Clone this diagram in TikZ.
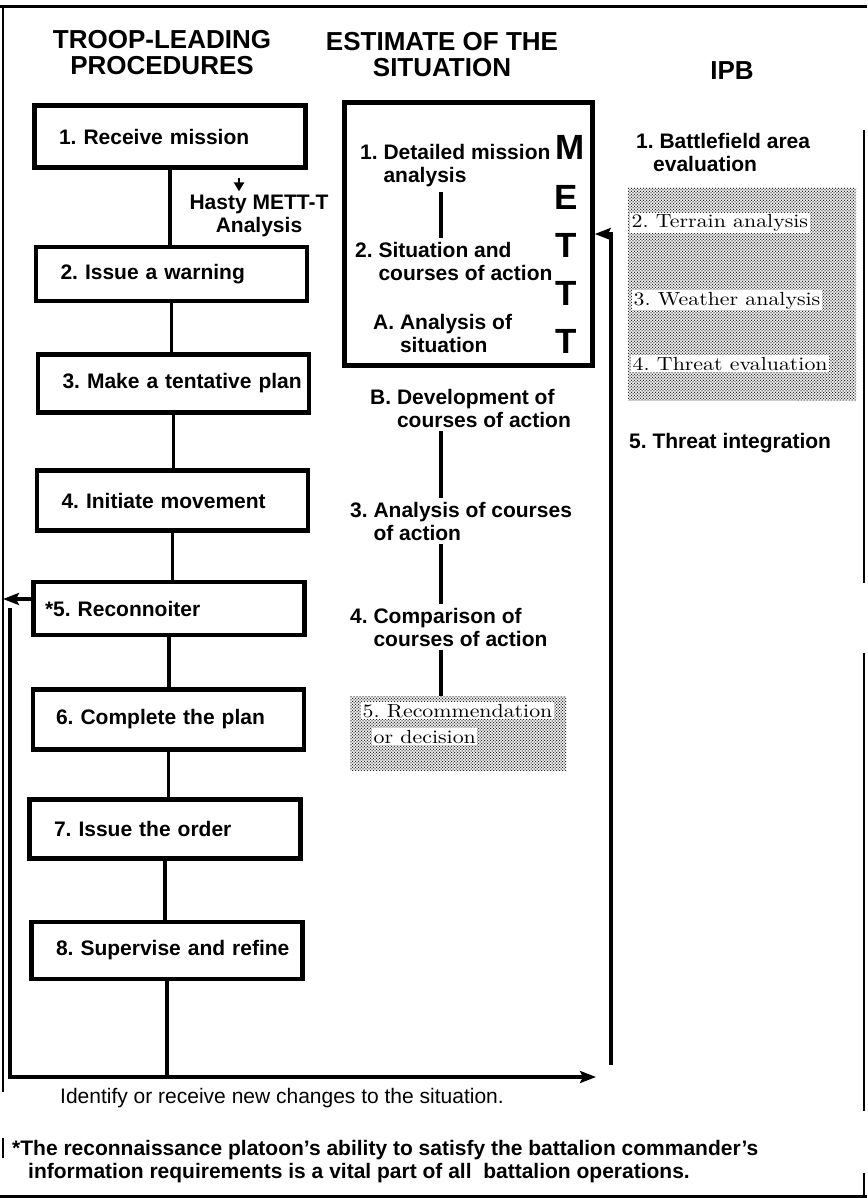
\documentclass[tikz,border=0pt]{standalone}
\usepackage{fontspec}
\newfontfamily\hv{Liberation Sans}
\newfontfamily\ser{lmroman10-regular.otf}[FakeStretch=1.15]
\usetikzlibrary{positioning,arrows.meta,patterns}
\frenchspacing

\newcommand\headfont{\hv\bfseries\fontsize{26}{26}\selectfont}
\newcommand\labfont{\hv\bfseries\fontsize{21}{23}\selectfont}
\newcommand\mettfont{\hv\bfseries\fontsize{35}{35}\selectfont}
\newcommand\notefont{\hv\fontsize{21}{23}\selectfont}
\newcommand\serfont{\ser\fontsize{19}{26}\selectfont}

\pgfdeclarepatternformonly{stipple}{\pgfqpoint{-1pt}{-1pt}}{\pgfqpoint{4pt}{4pt}}{\pgfqpoint{3pt}{3pt}}{%
  \pgfpathcircle{\pgfqpoint{0pt}{0pt}}{0.75pt}%
  \pgfpathcircle{\pgfqpoint{1.5pt}{1.5pt}}{0.75pt}%
  \pgfusepath{fill}}

\begin{document}
\begin{tikzpicture}[x=1pt,y=-1pt,
  head/.style={font=\headfont,align=center,anchor=base,inner sep=0pt},
  stage/.style={draw,line width=4.5pt,font=\labfont,text width=265pt,inner xsep=3pt,
    minimum height=#1,align=left},
  stage/.default=58pt,
  pad/.style={execute at begin node={\hspace*{#1}}},
  pad/.default=21.5pt,
  lab/.style={font=\labfont,align=left,anchor=base west,inner xsep=0pt,inner ysep=4pt},
  mett/.style={font=\mettfont,anchor=base,inner sep=0pt},
  note/.style={font=\notefont,anchor=base west,inner sep=0pt},
  stip/.style={pattern=stipple,pattern color=black!85,inner sep=0pt},
  sertxt/.style={font=\serfont,fill=white,anchor=base west,inner sep=1.5pt},
  wire/.style={line width=3.5pt},
  arr/.style={wire,-{Stealth[length=16pt,width=12pt,inset=3pt]}},
  hastyarr/.style={line width=2.5pt,-{Triangle[length=9pt,width=10pt]}}]
\useasboundingbox (0,0) rectangle (867,1198);
\draw[line width=3pt] (0,7)--(867,7);
\draw[line width=3pt] (0,1196)--(867,1196);
\draw[line width=2pt] (3,7)--(3,1092) (3,1138)--(3,1158);
\draw[line width=2.5pt] (864,130)--(864,583) (864,653)--(864,1111) (864,1173)--(864,1198);

\node[head] (tlp) at (162,75) {TROOP-LEADING\\PROCEDURES};
\node[head] (eos) at (442,77) {ESTIMATE OF THE\\SITUATION};
\node[head] (ipbh) at (732,80) {IPB};

\node[stage=62pt,pad] (b1) at (170,136.5) {1. Receive mission};
\node[stage=54pt,pad] (b2) at (171.5,274) {2. Issue a warning};
\node[stage=58pt,pad] (b3) at (173.5,383.5) {3. Make a tentative plan};
\node[stage=60pt,pad] (b4) at (172.5,500.5) {4. Initiate movement};
\node[stage=53pt,pad=8.5pt] (b5) at (169,608.5) {*5. Reconnoiter};
\node[stage=60pt,pad=20pt] (b6) at (168.5,719.5) {6. Complete the plan};
\node[stage=59pt,pad] (b7) at (165,829) {7. Issue the order};
\node[stage=57pt,pad] (b8) at (167,950.5) {8. Supervise and refine};
\draw[wire] (b1.south)--(b1.south|-b2.north);
\draw[wire] (b2.south)--(b2.south|-b3.north);
\draw[wire] (b3.south)--(b3.south|-b4.north);
\draw[wire] (b4.south)--(b4.south|-b5.north);
\draw[wire] (b5.south)--(b5.south|-b6.north);
\draw[wire] (b6.south)--(b6.south|-b7.north);
\draw[wire] (b7.south)--(b7.south|-b8.north);

\node[lab,align=center,anchor=base] (hasty) at (259,233) {Hasty METT-T\\Analysis};
\coordinate (hy) at (239,178);
\draw[hastyarr] (hy)--(hy|-hasty.north);

\node[draw,line width=4.5pt,minimum width=248pt,minimum height=263pt] (est) at (468.5,234) {};
\coordinate (mid) at (441,0);
\node[lab] (d1) at (360,183) {1. Detailed mission\\\phantom{1. }analysis};
\node[lab] (d2) at (355,280) {2. Situation and\\\phantom{2. }courses of action};
\node[lab] (da) at (373,352) {A. Analysis of\\\phantom{A. }situation};
\node[lab] (db) at (370,427) {B. Development of\\\phantom{B. }courses of action};
\node[lab] (d3) at (350,540) {3. Analysis of courses\\\phantom{3. }of action};
\node[lab] (d4) at (350,646) {4. Comparison of\\\phantom{4. }courses of action};
\node[stip,minimum width=216pt,minimum height=74pt] (rec) at (458,733) {};
\node[sertxt] (rec1) at (361,717) {5. Recommendation};
\node[sertxt] (rec2) at (372,743) {or decision};
\draw[wire] (d1.south-|mid)--(d2.north-|mid);
\draw[wire] (db.south-|mid)--(d3.north-|mid);
\draw[wire] (d3.south-|mid)--(d4.north-|mid);
\draw[wire] (d4.south-|mid)--(rec.north-|mid);

\node[mett] (m) at (570,160) {M};
\node[mett] (e) at (566,210) {E};
\node[mett] (t1) at (566,258) {T};
\node[mett] (t2) at (566,305) {T};
\node[mett] (t3) at (566,353) {T};

\node[lab] (i1) at (636,172) {1. Battlefield area\\\hspace*{17pt}evaluation};
\node[stip,minimum width=228pt,minimum height=212pt] (ipb) at (742,294) {};
\node[sertxt] (i2) at (630,228) {2. Terrain analysis};
\node[sertxt] (i3) at (632,305) {3. Weather analysis};
\node[sertxt] (i4) at (631,370) {4. Threat evaluation};
\node[lab] (i5) at (629,448) {5. Threat integration};

\coordinate (loopl) at (10,1077);
\coordinate (loopr) at (596,1077);
\coordinate (upl) at (10,608);
\coordinate (upr) at (611,1065);
\coordinate (edge) at (3,599);
\draw[wire] (b8.south)--(b8.south|-loopl);
\draw[arr] (upl)--(loopl)--(loopr);
\draw[arr] (upr)|-(est.east);
\draw[arr] (b5.west|-edge)--(edge);

\node[note] (chg) at (60,1103) {Identify or receive new changes to the situation.};
\node[lab] (fn) at (12,1178) {*The reconnaissance platoon’s ability to satisfy the battalion commander’s\\\hspace*{16pt}information requirements is a vital part of all\ \ battalion operations.};
\end{tikzpicture}
\end{document}
